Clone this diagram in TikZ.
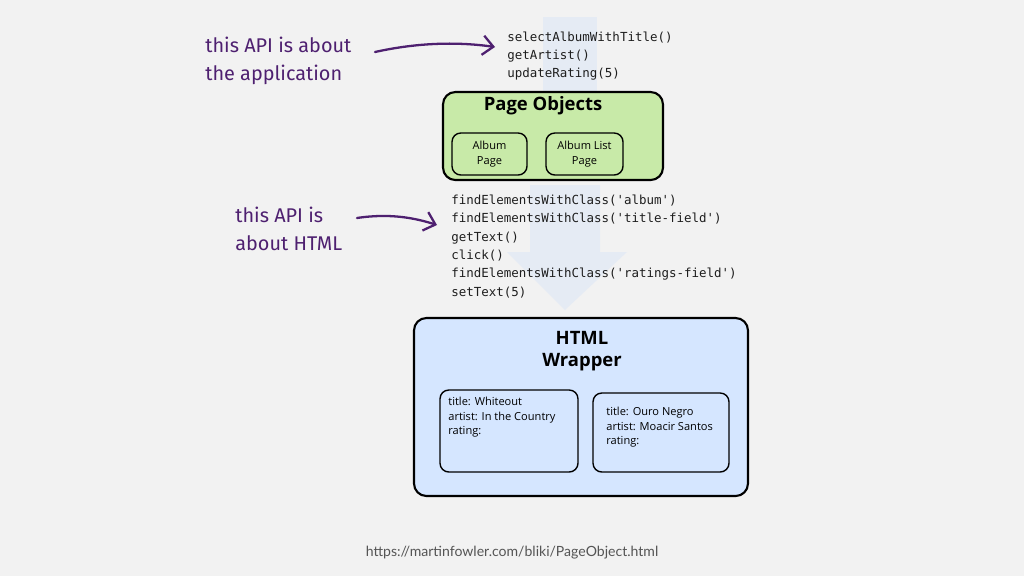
\documentclass[tikz,border=0pt]{standalone}
\usepackage{fontspec}
\setsansfont{Open Sans}
\newfontfamily\handfont{Fira Sans}
\newfontfamily\codefont{DejaVu Sans Mono}
\newfontfamily\urlfont{Lato}
\usetikzlibrary{arrows.meta}

\definecolor{slidebg}{HTML}{F2F2F2}
\definecolor{pagegreen}{HTML}{C8EAA8}
\definecolor{wrapblue}{HTML}{D5E6FF}
\definecolor{flowblue}{HTML}{DCE6F6}
\definecolor{notepurple}{HTML}{4E2070}
\definecolor{urlgray}{HTML}{555555}
\definecolor{codeink}{HTML}{1E1E1E}

\tikzset{
	bigbox/.style={draw=black, line width=1.2pt, rounded corners=7pt, inner sep=0pt},
	smallbox/.style={draw=black, line width=0.8pt, rounded corners=5pt, inner sep=0pt},
	boxtitle/.style={font=\sffamily\bfseries\fontsize{10.5}{12.5}\selectfont, align=center, inner sep=0pt},
	boxtext/.style={font=\sffamily\fontsize{6.3}{8.2}\selectfont, align=left, inner sep=0pt},
	codeline/.style={font=\codefont\fontsize{7.1}{9}\selectfont, text=codeink, anchor=base west, inner sep=0pt},
	note/.style={font=\handfont\fontsize{11.3}{13}\selectfont, text=notepurple, anchor=base west, inner sep=0pt},
	handarrow/.style={draw=notepurple, line width=1.3pt, line cap=round,
		-{Straight Barb[length=6pt, width=11pt, line width=1.3pt]}}
}

\begin{document}
\begin{tikzpicture}[x=0.02cm, y=-0.02cm]

	% slide background
	\fill[slidebg] (0,0) rectangle (1024,576);
	\useasboundingbox (0,0) rectangle (1024,576);

	% faint flow arrows behind the calls
	\fill[flowblue, opacity=0.55] (543,17) rectangle (597,92);
	\fill[flowblue, opacity=0.55] (530,185) -- (600,185) -- (600,252) -- (627,252)
		-- (565,310) -- (507,252) -- (530,252) -- cycle;

	% application level
	\node[note] (note1a) at (205,52) {this API is about};
	\node[note] (note1b) at (205,80) {the application};
	\node[codeline] (call1) at (507,41) {selectAlbumWithTitle()};
	\node[codeline] (call2) at (507,59) {getArtist()};
	\node[codeline] (call3) at (507,77) {updateRating(5)};
	\coordinate (arrow1start) at (375,52);
	\coordinate (arrow1end) at (495,47);
	\draw[handarrow] (arrow1start) .. controls (420,42) and (460,42) .. (arrow1end);

	\node[bigbox, fill=pagegreen, minimum width=4.4cm, minimum height=1.76cm]
		(pageobjects) at (553,136) {};
	\node[boxtitle] (pagetitle) at (543,106) {Page Objects};
	\node[smallbox, minimum width=1.5cm, minimum height=0.84cm,
		boxtext, align=center] (albumpage) at (489.5,154) {Album\\Page};
	\node[smallbox, minimum width=1.54cm, minimum height=0.84cm,
		boxtext, align=center] (albumlist) at (584.5,154) {Album List\\Page};

	% html level
	\node[note] (note2a) at (235,222) {this API is};
	\node[note] (note2b) at (235,250) {about HTML};
	\node[codeline] (find1) at (451,204) {findElementsWithClass('album')};
	\node[codeline] (find2) at (451,222) {findElementsWithClass('title-field')};
	\node[codeline] (gettext) at (451,241) {getText()};
	\node[codeline] (click) at (451,259) {click()};
	\node[codeline] (find3) at (451,277) {findElementsWithClass('ratings-field')};
	\node[codeline] (settext) at (451,296) {setText(5)};
	\coordinate (arrow2start) at (357,218);
	\coordinate (arrow2end) at (437,225);
	\draw[handarrow] (arrow2start) .. controls (390,213) and (415,218) .. (arrow2end);

	\node[bigbox, fill=wrapblue, minimum width=6.68cm, minimum height=3.56cm]
		(wrapper) at (581,407) {};
	\node[boxtitle] (wraptitle) at (582,351) {HTML\\Wrapper};
	\node[smallbox, minimum width=2.76cm, minimum height=1.64cm] (album1) at (509,431) {};
	\node[boxtext, anchor=north west] (album1text) at (448,397)
		{title: Whiteout\\artist: In the Country\\rating:};
	\node[smallbox, minimum width=2.72cm, minimum height=1.58cm] (album2) at (661,432.5) {};
	\node[boxtext, anchor=north west] (album2text) at (606,407)
		{title: Ouro Negro\\artist: Moacir Santos\\rating:};

	% source
	\node[font=\urlfont\fontsize{8}{10}\selectfont, text=urlgray] (source) at (512,553)
		{https://martinfowler.com/bliki/PageObject.html};

\end{tikzpicture}
\end{document}
